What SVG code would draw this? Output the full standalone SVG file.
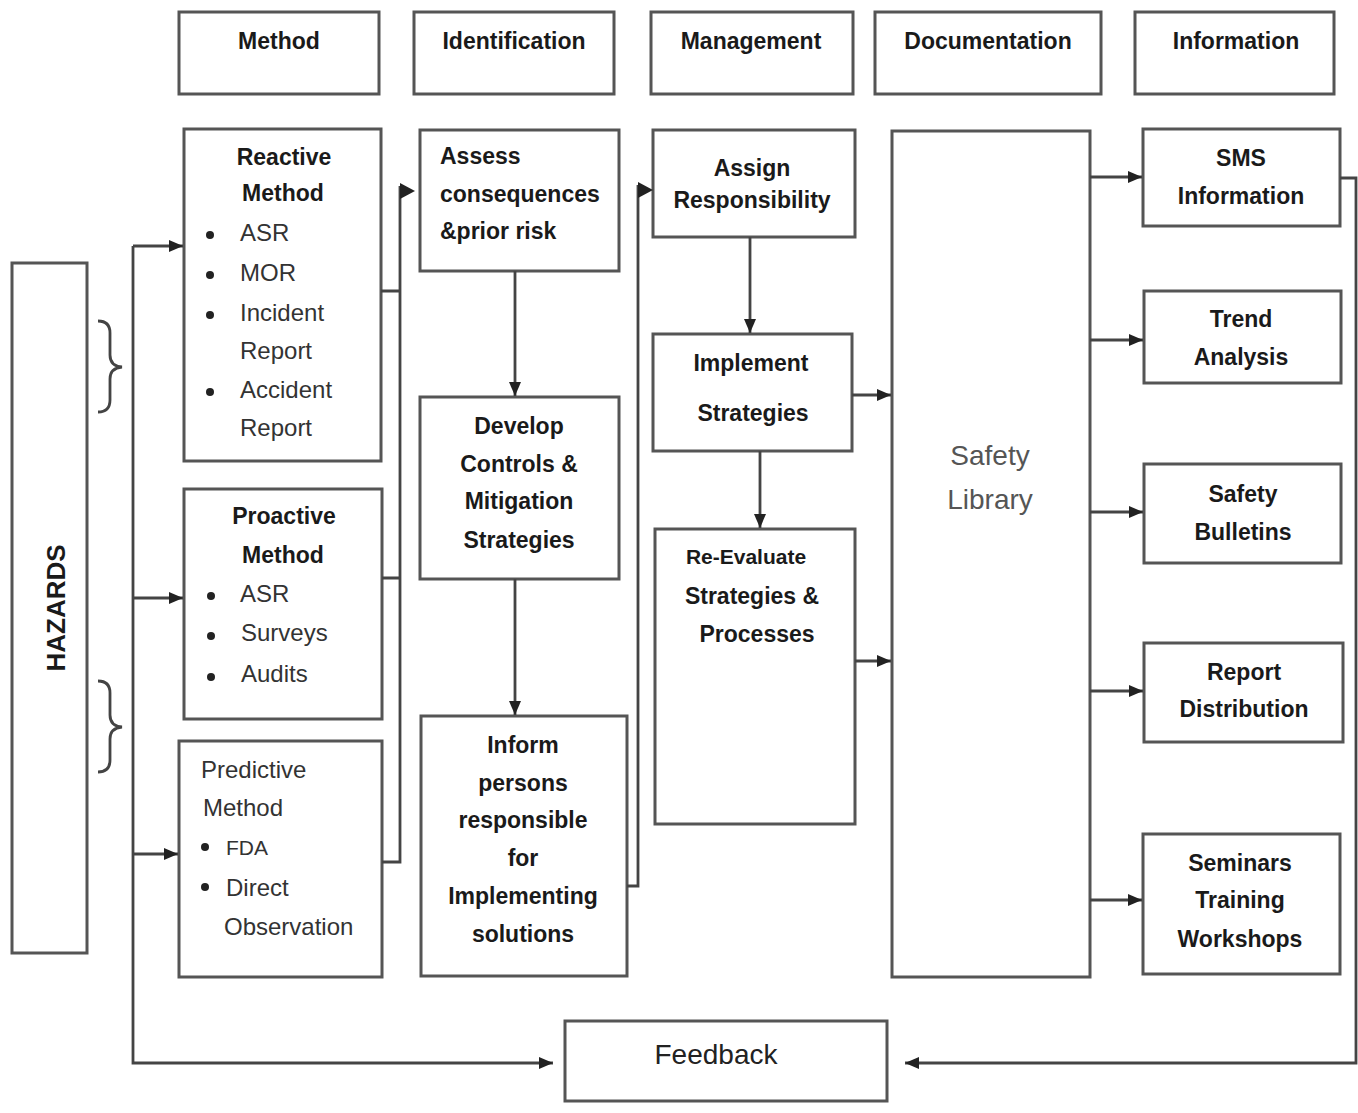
<svg xmlns="http://www.w3.org/2000/svg" width="1358" height="1113" viewBox="0 0 1358 1113">
<style>
.box{fill:#fff;stroke:#555;stroke-width:3}
.ln{fill:none;stroke:#444;stroke-width:2.8}
.af{fill:#222}
text{font-family:"Liberation Sans",Arial,sans-serif;fill:#1a1a1a}
.hdr{font-size:23px;font-weight:bold;text-anchor:middle}
.bt{font-size:23px;font-weight:bold;text-anchor:middle}
.btl{font-size:23px;font-weight:bold}
.nt{font-size:24px;fill:#333}
.big{font-size:28px;fill:#555;text-anchor:middle}
.dot{fill:#222}
</style>
<defs>
<marker id="ah" viewBox="0 0 14 12" refX="14" refY="6" markerWidth="14" markerHeight="12" orient="auto" markerUnits="userSpaceOnUse"><path d="M0,0 L14,6 L0,12 z" fill="#222"/></marker>
</defs>
<rect width="1358" height="1113" fill="#fff"/>

<g id="headers">
<g id="h-method"><rect class="box" x="179" y="12" width="200" height="82"/><text class="hdr" x="279" y="49">Method</text></g>
<g id="h-identification"><rect class="box" x="414" y="12" width="200" height="82"/><text class="hdr" x="514" y="49">Identification</text></g>
<g id="h-management"><rect class="box" x="651" y="12" width="202" height="82"/><text class="hdr" x="751" y="49">Management</text></g>
<g id="h-documentation"><rect class="box" x="875" y="12" width="226" height="82"/><text class="hdr" x="988" y="49">Documentation</text></g>
<g id="h-information"><rect class="box" x="1135" y="12" width="199" height="82"/><text class="hdr" x="1236" y="49">Information</text></g>
</g>

<g id="hazards"><rect class="box" x="12" y="263" width="75" height="690"/><text class="bt" style="font-size:26px" transform="translate(65,608) rotate(-90)">HAZARDS</text></g>

<g id="braces">
<path class="ln" stroke="#222" stroke-width="3.2" d="M98,321 Q110,321 110,333 V355 Q110,366 122,367 Q110,368 110,379 V400 Q110,412 98,412"/>
<path class="ln" stroke="#222" stroke-width="3.2" d="M98,681 Q110,681 110,693 V715 Q110,726 122,727 Q110,728 110,739 V760 Q110,772 98,772"/>
</g>

<g id="reactive"><rect class="box" x="184" y="129" width="197" height="332"/>
<text class="bt" x="284" y="165">Reactive</text><text class="bt" x="283" y="201">Method</text>
<circle class="dot" cx="210" cy="235" r="4"/><text class="nt" x="240" y="241">ASR</text>
<circle class="dot" cx="210" cy="275" r="4"/><text class="nt" x="240" y="281">MOR</text>
<circle class="dot" cx="210" cy="315" r="4"/><text class="nt" x="240" y="321">Incident</text>
<text class="nt" x="240" y="359">Report</text>
<circle class="dot" cx="210" cy="392" r="4"/><text class="nt" x="240" y="398">Accident</text>
<text class="nt" x="240" y="436">Report</text>
</g>

<g id="proactive"><rect class="box" x="184" y="489" width="198" height="230"/>
<text class="bt" x="284" y="524">Proactive</text><text class="bt" x="283" y="563">Method</text>
<circle class="dot" cx="211" cy="596" r="4"/><text class="nt" x="240" y="602">ASR</text>
<circle class="dot" cx="211" cy="636" r="4"/><text class="nt" x="241" y="641">Surveys</text>
<circle class="dot" cx="211" cy="677" r="4"/><text class="nt" x="241" y="682">Audits</text>
</g>

<g id="predictive"><rect class="box" x="179" y="741" width="203" height="236"/>
<text class="nt" x="201" y="778">Predictive</text><text class="nt" x="203" y="816">Method</text>
<circle class="dot" cx="205" cy="847" r="4"/><text class="nt" style="font-size:21px" x="226" y="855">FDA</text>
<circle class="dot" cx="205" cy="887" r="4"/><text class="nt" x="226" y="896">Direct</text>
<text class="nt" x="224" y="935">Observation</text>
</g>

<g id="assess"><rect class="box" x="420" y="130" width="199" height="141"/>
<text class="btl" x="440" y="164">Assess</text><text class="btl" x="440" y="202">consequences</text><text class="btl" x="440" y="239">&amp;prior risk</text></g>

<g id="develop"><rect class="box" x="420" y="397" width="199" height="182"/>
<text class="bt" x="519" y="434">Develop</text><text class="bt" x="519" y="472">Controls &amp;</text><text class="bt" x="519" y="509">Mitigation</text><text class="bt" x="519" y="548">Strategies</text></g>

<g id="inform"><rect class="box" x="421" y="716" width="206" height="260"/>
<text class="bt" x="523" y="753">Inform</text><text class="bt" x="523" y="791">persons</text><text class="bt" x="523" y="828">responsible</text><text class="bt" x="523" y="866">for</text><text class="bt" x="523" y="904">Implementing</text><text class="bt" x="523" y="942">solutions</text></g>

<g id="assign"><rect class="box" x="653" y="130" width="202" height="107"/>
<text class="bt" x="752" y="176">Assign</text><text class="bt" x="752" y="208">Responsibility</text></g>

<g id="implement"><rect class="box" x="653" y="334" width="199" height="117"/>
<text class="bt" x="751" y="371">Implement</text><text class="bt" x="753" y="421">Strategies</text></g>

<g id="reevaluate"><rect class="box" x="655" y="529" width="200" height="295"/>
<text class="bt" style="font-size:21px" x="746" y="564">Re-Evaluate</text><text class="bt" x="752" y="604">Strategies &amp;</text><text class="bt" x="757" y="642">Processes</text></g>

<g id="safety-library"><rect class="box" x="892" y="131" width="198" height="846"/>
<text class="big" x="990" y="465">Safety</text><text class="big" x="990" y="509">Library</text></g>

<g id="sms"><rect class="box" x="1143" y="129" width="197" height="97"/><text class="bt" x="1241" y="166">SMS</text><text class="bt" x="1241" y="204">Information</text></g>
<g id="trend"><rect class="box" x="1144" y="291" width="197" height="92"/><text class="bt" x="1241" y="327">Trend</text><text class="bt" x="1241" y="365">Analysis</text></g>
<g id="bulletins"><rect class="box" x="1144" y="464" width="197" height="99"/><text class="bt" x="1243" y="502">Safety</text><text class="bt" x="1243" y="540">Bulletins</text></g>
<g id="report"><rect class="box" x="1144" y="643" width="199" height="99"/><text class="bt" x="1244" y="680">Report</text><text class="bt" x="1244" y="717">Distribution</text></g>
<g id="seminars"><rect class="box" x="1143" y="834" width="197" height="140"/><text class="bt" x="1240" y="871">Seminars</text><text class="bt" x="1240" y="908">Training</text><text class="bt" x="1240" y="947">Workshops</text></g>

<g id="feedback"><rect class="box" x="565" y="1021" width="322" height="80"/><text class="big" style="fill:#222" x="716" y="1064">Feedback</text></g>

<g id="connectors">
<path class="ln" d="M133,246 H183" marker-end="url(#ah)"/>
<path class="ln" d="M133,246 V1063 H553" marker-end="url(#ah)"/>
<path class="ln" d="M133,598 H183" marker-end="url(#ah)"/>
<path class="ln" d="M133,854 H178" marker-end="url(#ah)"/>
<path class="ln" d="M381,291 H400 M382,578 H400 M382,862 H400 V186"/>
<polygon class="af" points="400,183 415,191 400,199"/>
<path class="ln" d="M515,271 V396" marker-end="url(#ah)"/>
<path class="ln" d="M515,579 V715" marker-end="url(#ah)"/>
<path class="ln" d="M627,886 H638 V185"/>
<polygon class="af" points="638,182 653,190 638,198"/>
<path class="ln" d="M750,237 V333" marker-end="url(#ah)"/>
<path class="ln" d="M760,451 V528" marker-end="url(#ah)"/>
<path class="ln" d="M852,395 H891" marker-end="url(#ah)"/>
<path class="ln" d="M855,661 H891" marker-end="url(#ah)"/>
<path class="ln" d="M1090,177 H1142" marker-end="url(#ah)"/>
<path class="ln" d="M1090,340 H1143" marker-end="url(#ah)"/>
<path class="ln" d="M1090,512 H1143" marker-end="url(#ah)"/>
<path class="ln" d="M1090,691 H1143" marker-end="url(#ah)"/>
<path class="ln" d="M1090,900 H1142" marker-end="url(#ah)"/>
<path class="ln" d="M1340,178 H1356 V1063 H905" marker-end="url(#ah)"/>
</g>
</svg>
